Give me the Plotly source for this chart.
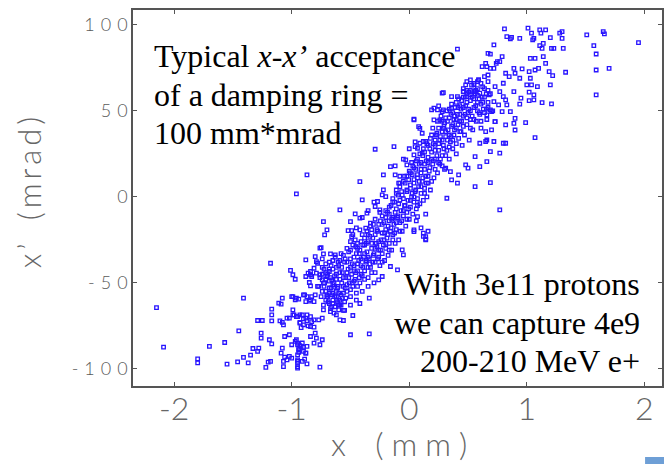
import plotly.graph_objects as go

# ---- data: (x [mm], x' [mrad]) ----
lower_left = [(-2.15,-64.4),(-2.09,-87.4),(-1.80,-94.2),(-1.80,-96.5),(-1.70,-87),(-1.57,-84.7),(-1.55,-97.3),(-1.45,-77.9),(-1.41,-58.9),(-1.46,-96),(-1.41,-93.4),(-1.37,-96.5),(-1.35,-92),(-1.33,-88.2),(-1.29,-89.9),(-1.28,-88),(-1.29,-71.9),(-1.25,-71.9),(-1.26,-82.2),(-1.26,-79.3),(-1.22,-99.2),(-1.20,-96.1),(-1.18,-95.7),(-1.19,-83.1),(-1.17,-85.5),(-1.18,-38.6),(-1.17,-65.3),(-1.17,-68.6),(-1.17,-72.1),(-1.10,-72.1),(-1.08,-73),(-1.07,-74.4),(-1.11,-61.8),(-1.09,-62.4),(-1.08,-58.9),(-1.09,-90.9),(-1.08,-88),(-1.06,-93.2),(-1.04,-94.8),(-1.02,-92.8),(-1.00,-93.8),(-1.07,-95.7),(-1.07,-98.7),(-1.06,-81.2),(-1.04,-70.5),(-1.02,-70.5),(-1.02,-80.2),(-1.00,-86),(-1.01,-42.8),(-0.99,-45.3),(-0.97,-47.9),(-0.99,-65.7),(-0.99,-68.6),(-0.96,-69.6),(-0.99,-58),(-0.96,-58.9),(-0.94,-59.5),(-0.95,-96.7),(-0.95,-99.6),(-0.95,-94.8),(-0.94,-90.5),(-0.94,-88),(-0.96,-83.1),(-0.95,-85.1),(-0.93,-86.6),(-0.92,-87),(-0.91,-85),(-0.90,-87.4),(-0.89,-94.4),(-0.88,-90.9),(-0.87,-97.1),(-0.93,-73),(-0.90,-71),(-0.87,-72),(-0.86,-75),(-0.92,-76),(-0.93,-68.6),(-0.87,-68.6),(-0.84,-69.6),(-0.89,-57),(-0.85,-60.6),(-0.83,-58),(-0.88,-36.6),(-0.86,-44.4),(-0.84,-45.3),(-0.83,-46.3),(-0.88,-46.3),(-0.85,-49.8),(-0.84,-51.8)]

lower_mid = [(-0.76,-29.8),(-0.73,-33.1),(-0.67,-33.1),(-0.63,-33.7),(-0.80,-34.7),(-0.79,-37.6),(-0.78,-38.6),(-0.84,-43.4),(-0.81,-41.5),(-0.79,-44.4),(-0.76,-45.3),(-0.74,-48.3),(-0.73,-50.2),(-0.71,-55),(-0.77,-52.1),(-0.70,-46.3),(-0.68,-43.4),(-0.66,-48.3),(-0.64,-52.1),(-0.90,-57),(-0.87,-58),(-0.88,-60.9),(-0.84,-59.9),(-0.81,-60.9),(-0.80,-57),(-0.97,-59.9),(-1.00,-58),(-0.70,-58),(-0.68,-62),(-0.66,-57),(-0.65,-60),(-0.63,-64),(-0.62,-58),(-0.61,-61),(-0.60,-56),(-0.58,-63),(-0.57,-59),(-0.56,-66),(-0.67,-65),(-0.73,-65.7),(-0.74,-70.5),(-0.77,-71.5),(-0.81,-71.5),(-0.83,-72.5),(-0.84,-75.4),(-0.81,-75.8),(-0.67,-66.7),(-0.64,-67.6),(-0.62,-68.6),(-0.59,-71.5),(-0.56,-71.9),(-0.63,-63.8),(-0.60,-65.7),(-0.59,-62.8),(-0.54,-58.9),(-0.50,-80.2),(-0.34,-79.7),(-0.34,-58.9),(-0.91,-68.6),(-0.88,-70.5),(-0.90,-74.4),(-0.93,-73.4),(-0.95,-69.6),(-0.98,-68.6),(-0.80,-79.3),(-0.79,-82.2),(-0.74,-83.1),(-0.76,-86),(-0.84,-81.2),(-0.81,-85.1),(-0.87,-87),(-0.90,-89.9),(-0.94,-89),(-0.95,-86),(-0.97,-84.1),(-0.95,-91.9),(-0.95,-95.7),(-0.95,-98.7),(-0.91,-95.7),(-0.88,-90.9),(-0.76,-99),(0.04,-20.2),(0.12,-21.1),(0.14,-24.6),(-0.10,-42.4),(-0.16,-40.5),(-0.23,-46.3),(-0.26,-48.3),(-0.05,-33.7),(-0.06,-30.8),(-0.55,-66),(-0.50,-63),(-0.45,-60),(-0.40,-55),(-0.35,-52),(-0.30,-50),(-0.48,-69),(-0.42,-62)]

center_left = [(-0.87,12.8),(-0.96,1.7),(-0.29,27.7),(-0.13,29.2),(-0.42,8.9),(-0.59,-7.6),(-0.73,-14.4),(-0.70,-19.2),(-0.72,-22.1),(-0.75,-29.5),(-0.50,-14.4),(-0.52,-19.6),(-0.49,-19.6),(-0.49,-23.1),(-0.46,-25),(-0.50,-26),(-0.46,-9.9),(-0.42,-12.4),(-0.40,-1.7),(-0.36,-9.5),(-0.33,-15.3),(-0.37,-18.2),(-0.42,-19.2),(-0.27,-2.7),(-0.29,-5.6),(-0.25,-7.6),(-0.22,4.1),(-0.23,1.2),(-0.16,17.6),(-0.22,12.8),(-0.12,12.8),(-0.09,8.0),(-0.03,21.5),(-0.02,18.6),(0.04,24.4),(0.07,28.3),(0.09,31.2),(0.14,32.2),(0.11,25.4),(0.14,-23.1),(0.14,-25),(0.04,-19.2),(0.07,-11.5),(-0.45,-18),(-0.40,-12),(-0.35,-8),(-0.30,-3),(-0.48,-22),(0.06,-14),(0.10,-18),(0.14,-10),(0.16,-20),(0.12,-23),(-0.12,18),(-0.05,22),(0.0,28),(0.05,32),(-0.08,12),(0.02,20)]

center_right = [(0.29,60.6),(0.36,58.3),(0.46,61.2),(0.52,59.3),(0.55,61.2),(0.60,60.3),(0.21,51.6),(0.25,52.9),(0.28,49.6),(0.04,44.8),(0.09,39.9),(0.11,37),(0.12,32.2),(0.05,29.2),(-0.20,0.2),(0.82,56.4),(0.83,53.5),(0.86,49.6),(0.89,42.8),(0.82,31.2),(0.77,25.4),(0.72,32.2),(0.69,26.3),(0.66,20.5),(0.60,17.6),(0.56,6.0),(0.69,8.3),(0.77,-7.6),(0.41,8.0),(0.32,-0.8),(0.36,9.9),(0.42,12.8),(0.31,16.7),(0.35,14.7),(0.48,18.6),(0.50,16.7),(0.56,23.4),(0.60,31.2),(0.66,33.1),(0.65,38),(0.73,43.8),(0.69,50.6),(0.41,85.9),(0.67,83.5),(0.65,77.7),(0.67,70.9),(0.59,68),(0.55,65.1),(0.49,67),(0.46,61.2),(0.56,61.2),(0.49,58.3),(0.41,58.3),(0.36,51.6),(0.29,50.6),(0.28,60.3),(0.24,50.6),(0.19,50.6),(0.04,45.2),(0.08,40.9),(0.21,44.8),(0.26,44.8),(0.29,39.9),(0.75,78.7),(0.58,67),(0.52,68),(0.48,65.1)]

upper_right = [(1.95,89.7),(1.65,96.1),(1.66,94.8),(1.51,94.2),(1.57,88),(1.59,83.1),(1.59,73.8),(1.70,74.8),(1.59,59.3),(1.33,72.5),(1.22,70.5),(1.19,72.9),(1.20,65.1),(1.21,54.1),(1.13,54.8),(1.06,56.4),(1.02,56),(0.94,53.9),(0.95,57.4),(0.89,61.2),(0.90,45.7),(0.99,43.2),(1.07,34.5),(0.80,31.2),(0.90,38.9),(0.82,41.9),(0.81,97.7),(0.83,93.2),(0.86,91.9),(0.87,92.8),(0.94,92.2),(1.01,98.1),(1.04,95.2),(1.05,91.3),(1.06,92.2),(1.11,97.1),(1.16,97.1),(1.12,95.2),(1.20,92.6),(1.21,86.4),(1.23,86.4),(1.28,95.2),(1.30,96.1),(1.30,92.2),(1.31,86.4),(1.13,86.4),(1.11,88),(1.14,89.3),(1.03,80.6),(1.07,80.6),(1.14,81.6),(1.16,77.7),(1.10,74.8),(1.07,73.8),(1.02,72.9),(1.03,69),(1.00,65.1),(1.04,65.1),(1.09,64.1),(1.02,60.9),(1.06,59.3),(0.94,69),(0.96,74.4),(0.90,71.9),(0.89,74.8),(0.79,81.6),(0.77,78.7),(0.74,77.7),(0.72,74.8),(0.69,74.8),(0.72,88.4),(0.69,83),(0.66,75.8),(0.62,75.8),(0.82,71.9),(0.85,69.9),(0.80,66.1),(0.77,61.2),(0.80,58.3),(0.73,64.1),(0.68,59.3),(0.72,55.4),(0.76,53.5),(0.79,49.6),(0.70,49.6),(0.66,47.7),(0.73,43.8),(0.70,39),(0.65,32.2)]

core = [(-0.78,-52),(-0.76,-47),(-0.75,-58),(-0.74,-41),(-0.73,-63),(-0.72,-50),(-0.71,-44),(-0.70,-57),(-0.69,-61),(-0.68,-38),(-0.68,-53),(-0.67,-47),(-0.66,-64),(-0.65,-42),(-0.65,-56),(-0.64,-50),(-0.63,-35),(-0.62,-60),(-0.62,-45),(-0.61,-53),(-0.60,-40),(-0.60,-63),(-0.59,-48),(-0.58,-57),(-0.58,-33),(-0.57,-44),(-0.56,-52),(-0.55,-38),(-0.55,-61),(-0.54,-47),(-0.53,-30),(-0.53,-55),(-0.52,-42),(-0.51,-50),(-0.50,-36),(-0.50,-58),(-0.49,-45),(-0.48,-28),(-0.48,-52),(-0.47,-40),(-0.46,-48),(-0.45,-33),(-0.45,-56),
(-0.44,-43),(-0.44,-27),(-0.43,-37),(-0.42,-50),(-0.42,-31),(-0.41,-40),(-0.40,-22),(-0.40,-46),(-0.39,-35),(-0.38,-28),(-0.38,-43),(-0.37,-38),(-0.36,-20),(-0.36,-32),(-0.35,-47),(-0.35,-26),(-0.34,-36),(-0.33,-41),(-0.33,-17),(-0.32,-30),(-0.31,-24),(-0.31,-38),(-0.30,-33),(-0.29,-44),(-0.29,-13),(-0.28,-27),(-0.27,-36),(-0.27,-20),(-0.26,-31),(-0.25,-9),(-0.25,-40),(-0.24,-25),(-0.23,-16),(-0.23,-33),(-0.22,-28),(-0.21,-21),(-0.21,-37),(-0.20,-12),(-0.20,-30),(-0.19,-24),(-0.18,-17),(-0.18,-34),(-0.17,-6),(-0.17,-27),(-0.16,-20),(-0.15,-13),(-0.15,-31),
(-0.14,-22),(-0.14,-3),(-0.13,-16),(-0.12,-27),(-0.12,-9),(-0.11,2),(-0.11,-19),(-0.10,-12),(-0.09,-25),(-0.09,-4),(-0.08,8),(-0.08,-15),(-0.07,-8),(-0.06,-20),(-0.06,1),(-0.05,-11),(-0.04,12),(-0.04,-5),(-0.03,-17),(-0.02,4),(-0.02,-9),(-0.01,-2),(0.00,15),(0.00,-13),(0.01,7),(0.01,-6),(0.02,0),(0.03,18),(0.03,-10),(0.04,10),(0.04,-3),(0.05,3),(0.06,21),(0.06,-7),(0.07,13),(0.07,-1),(0.08,6),(0.09,25),(0.09,-4),(0.10,16),(0.10,2),(0.11,9),(0.12,28),(0.12,-2),(0.13,19),(0.13,5),(0.14,12),(0.15,31),(0.15,0),
(0.16,23),(0.16,8),(0.17,15),(0.18,34),(0.18,4),(0.19,26),(0.20,19),(0.20,40),(0.21,11),(0.22,30),(0.22,22),(0.23,36),(0.24,14),(0.24,44),(0.25,27),(0.26,33),(0.26,19),(0.27,47),(0.28,24),(0.28,38),(0.29,30),(0.30,16),(0.30,43),(0.31,35),(0.32,27),(0.32,50),(0.33,39),(0.34,22),(0.34,46),(0.35,32),(0.36,41),(0.36,54),(0.37,28),(0.38,45),(0.38,36),(0.39,52),(0.40,40),(0.40,25),(0.41,48),(0.42,34),(0.42,57),(0.43,44),(0.44,38),(0.44,51),(0.45,30),
(0.46,47),(0.46,58),(0.47,36),(0.48,53),(0.49,42),(0.49,62),(0.50,49),(0.51,33),(0.52,56),(0.52,45),(0.53,65),(0.54,39),(0.55,52),(0.56,60),(0.57,44),(0.58,55),(0.59,68),(0.60,48),(0.61,40),(0.62,58),(0.63,51),(0.64,63),(0.66,45),(0.67,55),(0.69,60),(0.71,50)]

core_dense_a = [(-0.74,-55),(-0.74,-45),(-0.74,-36),(-0.71,-60),(-0.71,-48),(-0.71,-39),(-0.68,-56),(-0.68,-49),(-0.68,-42),(-0.65,-62),(-0.65,-51),(-0.65,-37),(-0.62,-55),(-0.62,-48),(-0.62,-41),(-0.59,-60),(-0.59,-44),(-0.59,-37),(-0.56,-56),(-0.56,-47),(-0.56,-34),(-0.53,-51),(-0.53,-44),(-0.53,-38),(-0.50,-54),(-0.50,-41),(-0.50,-31),(-0.47,-49),(-0.47,-43),(-0.47,-35),(-0.44,-52),(-0.44,-39),(-0.44,-30),(-0.41,-45),(-0.41,-36),(-0.41,-26),(-0.38,-48),(-0.38,-33),(-0.38,-24),(-0.35,-41),(-0.35,-35),(-0.35,-22),(-0.32,-44),(-0.32,-27),(-0.32,-19),(-0.29,-38),(-0.29,-30),(-0.29,-22),(-0.26,-35),(-0.26,-26),(-0.26,-16),(-0.23,-38),(-0.23,-21),(-0.23,-11),(-0.20,-27),(-0.20,-19),(-0.20,-8),(-0.17,-31),(-0.17,-14),(-0.17,-10),(-0.14,-25),(-0.14,-12),(-0.14,-1),(-0.11,-15),(-0.11,-7),(-0.11,4),(-0.08,-20),(-0.08,-2),(-0.08,6),(-0.05,-8),(-0.05,-1),(-0.05,9),(-0.02,-13),(-0.02,3),(-0.02,12),(0.01,-2),(0.01,5),(0.01,14),(0.04,0),(0.04,8),(0.04,17),(0.07,-5),(0.07,11),(0.07,22),(0.10,6),(0.10,14),(0.10,20),(0.13,2),(0.13,16),(0.13,26),(0.16,12),(0.16,20),(0.16,30),(0.19,9),(0.19,22),(0.19,36),(0.22,16),(0.22,27),(0.22,33),(0.25,20),(0.25,31),(0.25,40),(0.28,18),(0.28,33),(0.28,44),(0.31,24),(0.31,38),(0.31,46),(0.34,29),(0.34,36),(0.34,51),(0.37,33),(0.37,42),(0.37,49),(0.40,31),(0.40,45),(0.40,55),(0.43,38),(0.43,48),(0.43,53),(0.46,41),(0.46,52),(0.46,63),(0.49,46),(0.49,55),(0.49,60),(0.52,40),(0.52,50),(0.52,62),(0.55,45),(0.55,57),(0.55,66),(0.58,50),(0.58,59),(0.58,63),(0.61,44),(0.61,54),(0.61,66),(0.64,49),(0.64,58),(0.64,70),(0.67,52),(0.67,62),(0.67,67)]

core_dense_b = [(-0.725,-52),(-0.725,-42),(-0.695,-58),(-0.695,-45),(-0.665,-53),(-0.665,-40),(-0.635,-58),(-0.635,-46),(-0.605,-52),(-0.605,-38),(-0.575,-50),(-0.575,-41),(-0.545,-53),(-0.545,-36),(-0.515,-47),(-0.515,-32),(-0.485,-50),(-0.485,-39),(-0.455,-44),(-0.455,-29),(-0.425,-47),(-0.425,-33),(-0.395,-41),(-0.395,-28),(-0.365,-37),(-0.365,-27),(-0.335,-39),(-0.335,-23),(-0.305,-34),(-0.305,-16),(-0.275,-29),(-0.275,-19),(-0.245,-31),(-0.245,-14),(-0.215,-25),(-0.215,-15),(-0.185,-22),(-0.185,-9),(-0.155,-18),(-0.155,-5),(-0.125,-21),(-0.125,-3),(-0.095,-11),(-0.095,1),(-0.065,-14),(-0.065,3),(-0.035,-5),(-0.035,8),(-0.005,-7),(-0.005,10),(0.025,2),(0.025,13),(0.055,4),(0.055,16),(0.085,9),(0.085,19),(0.115,11),(0.115,24),(0.145,8),(0.145,21),(0.175,17),(0.175,28),(0.205,21),(0.205,31),(0.235,24),(0.235,37),(0.265,22),(0.265,35),(0.295,28),(0.295,41),(0.325,33),(0.325,44),(0.355,35),(0.355,48),(0.385,39),(0.385,47),(0.415,42),(0.415,52),(0.445,44),(0.445,56),(0.475,48),(0.475,58),(0.505,51),(0.505,61),(0.535,47),(0.535,58),(0.565,53),(0.565,62),(0.595,49),(0.595,57),(0.625,55),(0.625,64),(0.655,51),(0.655,60)]

x_ticks = [-2, -1, 0, 1, 2]
x_ticklabels = ["-2", "-1", "0", "1", "2"]
y_ticks = [-100, -50, 0, 50, 100]
y_ticklabels = ["-100", "-50", "0", "50", "100"]

all_points = lower_left + lower_mid + center_left + center_right + upper_right + core + core_dense_a + core_dense_b
xs = [p[0] for p in all_points]
ys = [p[1] for p in all_points]

def spaced(s, sp="\u2004"):
    return sp.join(list(s))

fig = go.Figure()
fig.add_trace(go.Scatter(
    x=xs, y=ys, mode="markers",
    marker=dict(symbol="square-open", size=3.5, color="#2814ff",
                line=dict(width=1.3, color="#2814ff")),
    showlegend=False, hoverinfo="skip"))

axis_common = dict(showline=True, linecolor="#555555", linewidth=1.5, mirror="ticks",
                   ticks="inside", ticklen=4, tickcolor="#555555", tickwidth=1,
                   showgrid=False, zeroline=False, automargin=False)

fig.update_xaxes(range=[-2.35, 2.15], tickvals=x_ticks, ticktext=x_ticklabels,
                 tickfont=dict(family="Lato", size=32, color="#666666", weight=300),
                 ticklabelstandoff=-6,
                 **axis_common)
fig.update_yaxes(range=[-110, 108.7], tickvals=y_ticks,
                 ticktext=[spaced(t) for t in y_ticklabels],
                 tickfont=dict(family="Lato", size=18, color="#5a5a5a", weight=300),
                 ticklabelstandoff=0,
                 **axis_common)

serif = dict(family="Liberation Serif, Times New Roman, serif", size=32, color="black")
ann = []
left_lines = ["Typical <i>x-x’</i> acceptance", "of a damping ring =", "100 mm*mrad"]
left_y = [0.878, 0.774, 0.673]
for t, yy in zip(left_lines, left_y):
    ann.append(dict(text=t, xref="paper", yref="paper", x=0.036, y=yy,
                    xanchor="left", yanchor="middle", showarrow=False, font=serif))
right_lines = ["With 3e11 protons", "we can capture 4e9", "200-210 MeV e+"]
right_y = [0.272, 0.168, 0.066]
for t, yy in zip(right_lines, right_y):
    ann.append(dict(text=t, xref="paper", yref="paper", x=0.962, y=yy,
                    xanchor="right", yanchor="middle", showarrow=False, font=serif))

ann.append(dict(text="x" + "\u2003\u2006" + spaced("(mm)", "\u2005"), xref="paper", yref="paper",
                x=0.502, y=-0.152, xanchor="center", yanchor="middle", showarrow=False,
                font=dict(family="Lato", size=32, color="#666666", weight=300)))
ann.append(dict(text=spaced("x’", "\u2009") + "\u2003" + spaced("(mrad)", "\u2009"),
                xref="paper", yref="paper", x=-0.195, y=0.515,
                xanchor="center", yanchor="middle", showarrow=False, textangle=-90,
                font=dict(family="Lato", size=31, color="#666666", weight=300)))

# page body has an 8 px margin: figure is 664x456 so it fills the 672x464 window
fig.update_layout(
    width=664, height=456, autosize=False,
    margin=dict(l=125, r=10, t=2, b=78),
    paper_bgcolor="white", plot_bgcolor="white",
    annotations=ann,
    shapes=[dict(type="rect", xref="paper", yref="paper", x0=0.968, x1=1.05,
                 y0=-0.26, y1=-0.189, fillcolor="#6e9fd6", line=dict(width=0))],
)

fig.write_html("out.html")
